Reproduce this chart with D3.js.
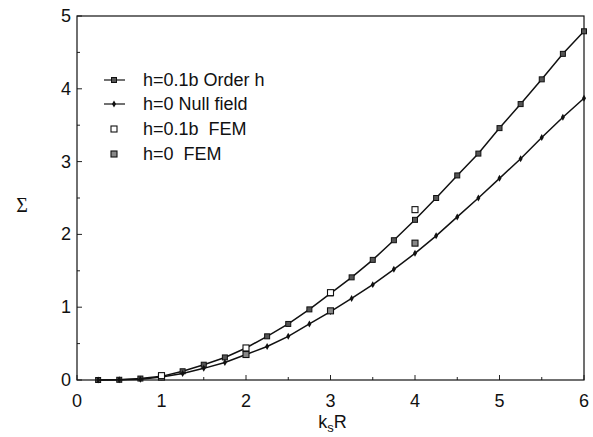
<!DOCTYPE html>
<html>
<head>
<meta charset="utf-8">
<script src="https://cdn.jsdelivr.net/npm/d3@7"></script>
<style>
  body { margin: 0; background: #fff; }
  text { font-family: "Liberation Sans", Arial, sans-serif; fill: #111; }
</style>
</head>
<body>
<svg id="chart" width="593" height="437"></svg>
<script>
// values
let ksR = [0.25, 0.5, 0.75, 1, 1.25, 1.5, 1.75, 2, 2.25, 2.5, 2.75, 3,
  3.25, 3.5, 3.75, 4, 4.25, 4.5, 4.75, 5, 5.25, 5.5, 5.75, 6];
let orderH = [0, 0.003, 0.02, 0.05, 0.12, 0.21, 0.31, 0.44, 0.6, 0.77, 0.97, 1.19,
  1.41, 1.65, 1.92, 2.2, 2.5, 2.81, 3.11, 3.46, 3.79, 4.13, 4.48, 4.79];
let nullField = [0, 0.002, 0.01, 0.04, 0.09, 0.16, 0.24, 0.35, 0.46, 0.6, 0.77, 0.94,
  1.12, 1.31, 1.52, 1.74, 1.98, 2.24, 2.5, 2.77, 3.04, 3.33, 3.61, 3.87];
let femX = [1, 2, 3, 4];
let femH01 = [0.06, 0.44, 1.2, 2.34];
let femH0 = [0.04, 0.35, 0.95, 1.88];
let legendLabels = ['h=0.1b Order h', 'h=0 Null field', 'h=0.1b  FEM', 'h=0  FEM'];

let chart = {};

chart.init = function(){
  let svg = d3.select('#chart');
  let width = +svg.attr('width');
  let height = +svg.attr('height');
  let margin = {left: 77, right: 9, top: 16, bottom: 57};

  svg.sx = d3.scaleLinear()
  .domain([0, 6])
  .range([margin.left, width - margin.right]);

  svg.sy = d3.scaleLinear()
  .domain([0, 5])
  .range([height - margin.bottom, margin.top]);

  this.svg = svg;
  this.drawAxes();
  this.drawSeries();
  this.drawLegend();
};

chart.drawAxes = function(){
  let svg = this.svg;
  let sx = svg.sx, sy = svg.sy;
  let x0 = sx.range()[0], x1 = sx.range()[1];
  let y0 = sy.range()[0], y1 = sy.range()[1];

  // inward ticks, major on integers, minor on halves
  let xTicks = d3.range(0, 6.01, 0.5);
  let yTicks = d3.range(0, 5.01, 0.5);

  svg.append('g')
  .selectAll('line')
  .data(xTicks)
  .enter()
  .append('line')
  .attr('x1', d=>sx(d)).attr('x2', d=>sx(d))
  .attr('y1', y0).attr('y2', d=>y0 - (d%1===0 ? 5 : 3))
  .attr('stroke', '#222');

  svg.append('g')
  .selectAll('line')
  .data(yTicks)
  .enter()
  .append('line')
  .attr('y1', d=>sy(d)).attr('y2', d=>sy(d))
  .attr('x1', x0).attr('x2', d=>x0 + (d%1===0 ? 5 : 3))
  .attr('stroke', '#222');

  svg.append('rect')
  .attr('x', x0).attr('y', y1)
  .attr('width', x1 - x0).attr('height', y0 - y1)
  .attr('fill', 'none')
  .attr('stroke', '#111')
  .attr('stroke-width', 1.2);

  svg.append('g')
  .selectAll('text')
  .data(d3.range(0, 7))
  .enter()
  .append('text')
  .attr('x', d=>sx(d))
  .attr('y', y0 + 27)
  .attr('text-anchor', 'middle')
  .style('font-size', '18px')
  .text(d=>d);

  svg.append('g')
  .selectAll('text')
  .data(d3.range(0, 6))
  .enter()
  .append('text')
  .attr('x', x0 - 6)
  .attr('y', d=>sy(d) + 6)
  .attr('text-anchor', 'end')
  .style('font-size', '18px')
  .text(d=>d);

  let xl = svg.append('text')
  .attr('x', (x0 + x1)/2 + 2)
  .attr('y', 428)
  .attr('text-anchor', 'middle')
  .style('font-size', '18px');
  xl.append('tspan').text('k');
  xl.append('tspan').attr('dy', 4).style('font-size', '13px').text('s');
  xl.append('tspan').attr('dy', -4).text('R');

  svg.append('text')
  .attr('x', 22)
  .attr('y', 212)
  .attr('text-anchor', 'middle')
  .style('font-family', '"Liberation Serif", "Times New Roman", serif')
  .style('font-size', '20px')
  .text('Σ');
};

chart.marker = function(g, kind, x, y){
  if(kind === 'sq'){
    g.append('rect')
    .attr('x', x-2.5).attr('y', y-2.5).attr('width', 5).attr('height', 5)
    .attr('fill', '#555').attr('stroke', '#111').attr('stroke-width', 1);
  } else if(kind === 'dia'){
    g.append('path')
    .attr('d', d3.symbol(d3.symbolDiamond, 14)())
    .attr('transform', `translate(${x},${y})`)
    .attr('fill', '#111');
  } else if(kind === 'open'){
    g.append('rect')
    .attr('x', x-3).attr('y', y-3).attr('width', 6).attr('height', 6)
    .attr('fill', '#fff').attr('stroke', '#111').attr('stroke-width', 1.1);
  } else {
    g.append('rect')
    .attr('x', x-3).attr('y', y-3).attr('width', 6).attr('height', 6)
    .attr('fill', '#888').attr('stroke', '#111').attr('stroke-width', 1.1);
  }
};

chart.drawSeries = function(){
  let svg = this.svg;
  let sx = svg.sx, sy = svg.sy;
  let line = d3.line()
  .x(d=>sx(d[0]))
  .y(d=>sy(d[1]));

  let series = [
    {vals: orderH, kind: 'sq'},
    {vals: nullField, kind: 'dia'}
  ];

  series.forEach(s=>{
    let pts = ksR.map((x,i)=>[x, s.vals[i]]);
    svg.append('path')
    .datum(pts)
    .attr('d', line)
    .attr('fill', 'none')
    .attr('stroke', '#111')
    .attr('stroke-width', 1.5);
    let g = svg.append('g');
    pts.forEach(p=>chart.marker(g, s.kind, sx(p[0]), sy(p[1])));
  });

  let g = svg.append('g');
  femX.forEach((x,i)=>{
    chart.marker(g, 'grey', sx(x), sy(femH0[i]));
    chart.marker(g, 'open', sx(x), sy(femH01[i]));
  });
};

chart.drawLegend = function(){
  let svg = this.svg;
  let kinds = ['sq', 'dia', 'open', 'grey'];
  let ys = [80, 104, 129, 154];
  let g = svg.append('g');
  legendLabels.forEach((label,i)=>{
    if(i < 2){
      g.append('line')
      .attr('x1', 104).attr('x2', 125)
      .attr('y1', ys[i]).attr('y2', ys[i])
      .attr('stroke', '#111').attr('stroke-width', 1.2);
    }
    chart.marker(g, kinds[i], 114, ys[i]);
    g.append('text')
    .attr('x', 143)
    .attr('y', ys[i] + 6)
    .style('font-size', '18px')
    .style('white-space', 'pre')
    .text(label);
  });
};

chart.init();
</script>
</body>
</html>
